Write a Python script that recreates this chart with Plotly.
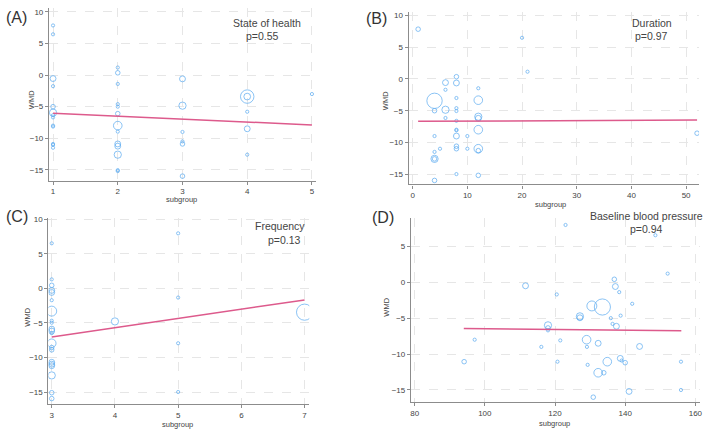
import plotly.graph_objects as go

W, H = 709, 432

# ---------------- data ----------------
# (A) State of health
a_x = [1, 1, 1, 1, 1, 1, 1, 1, 1, 1, 1, 1, 1,
       2, 2, 2, 2, 2, 2, 2, 2, 2, 2, 2, 2, 2,
       3, 3, 3, 3, 3, 3,
       4, 4, 4, 4, 4,
       5]
a_y = [7.86, 6.46, -0.55, -1.75, -5.0, -5.95, -6.35, -6.7, -8.0, -8.15, -10.9, -11.05, -11.5,
       1.2, 0.36, -1.4, -4.6, -5.0, -6.1, -8.0, -8.95, -10.9, -11.25, -12.6, -15.05, -15.2,
       -0.6, -4.84, -9.0, -10.5, -10.9, -16.0,
       -3.4, -3.4, -5.8, -8.5, -12.6,
       -3.0]
a_w = [1, 1, 2, 1, 1.5, 2.5, 1, 1, 1, 1, 1, 1, 1,
       1, 1.5, 1, 1, 1, 1.5, 3, 1, 2, 2, 2.5, 1, 1,
       2, 2.5, 1, 1, 1.5, 1.5,
       4.8, 2.3, 1, 2, 1,
       1]
a_fit_x = [1, 5]
a_fit_y = [-6.04, -7.90]

# (B) Duration
b_x = [1, 20, 21, 4, 4, 4, 4, 4, 4, 4, 5, 6, 6, 6, 6,
       8, 8, 8, 8, 8, 8, 8, 8, 8, 8, 8, 8,
       10, 10, 12, 12, 12, 12, 12, 12, 12, 12, 52]
b_y = [7.86, 6.5, 1.15, -3.44, -5.0, -9.0, -11.5, -12.6, -12.6, -16.0, -11.0, -0.57, -1.7, -4.85, -6.15,
       0.36, -0.63, -3.0, -4.6, -5.05, -6.6, -8.0, -8.1, -9.0, -10.6, -11.0, -15.0,
       -9.0, -11.0, -1.46, -3.34, -5.95, -6.2, -8.0, -11.0, -11.3, -15.2, -8.55]
b_w = [1.5, 1, 1, 5.5, 1.5, 1, 1, 2.5, 1.5, 1.5, 1, 2, 1, 2.5, 1,
       1.5, 2, 1, 1, 1, 1, 1, 1, 2, 1.5, 1.5, 1,
       1, 1, 1, 3, 2.5, 2, 3, 3, 1.5, 1.5, 1.5]
b_fit_x = [1, 52]
b_fit_y = [-6.68, -6.47]

# (C) Frequency
c_x = [3] * 21 + [4, 5, 5, 5, 5, 7]
c_y = [6.51, 1.29, 0.43, -0.3, -0.6, -1.72, -3.3, -4.69, -4.98, -5.9, -6.18, -6.5,
       -7.95, -8.57, -8.9, -10.7, -10.97, -11.2, -12.6, -15.1, -15.95,
       -4.79, 7.95, -1.34, -7.95, -15.0, -3.45]
c_w = [1, 1, 1.5, 2, 2, 1, 3.5, 1, 1, 2, 2, 1,
       3, 1.5, 1.5, 2, 2, 2, 2.5, 1.5, 1.5,
       2.5, 1, 1, 1, 1, 5.8]
c_fit_x = [3, 7]
c_fit_y = [-7.04, -1.68]

# (D) Baseline blood pressure
d_x = [123.0, 148.6, 152.1, 94.1, 97.1, 111.6, 116.1, 120.5, 120.7, 118, 118, 118, 121.5,
       127.1, 127.1, 129, 129.1, 129.3, 130.5, 133.5, 130.9, 132.3, 132.3, 133.9, 134.9,
       135.9, 136.4, 136.9, 137.2, 137.5, 138.3, 138.7, 138.6, 139, 140, 141.1, 142,
       144.1, 155.9, 155.9]
d_y = [7.97, 6.54, 1.2, -11.06, -8.0, -0.5, -9.0, -1.7, -11.06, -6.0, -6.36, -6.7, -8.1,
       -4.75, -4.95, -8.0, -9.0, -11.5, -3.3, -3.45, -16.0, -8.5, -12.6, -12.6, -11.06,
       -5.0, -5.8, 0.41, -0.6, -6.13, -1.38, -4.65, -10.6, -10.9, -11.2, -15.2, -3.0,
       -8.94, -11.06, -15.0]
d_w = [1, 1, 1, 1.5, 1, 2, 1, 1, 1, 2.5, 1.5, 1, 1,
       2.5, 2, 3, 1, 1, 3.5, 5.8, 1.5, 2, 3, 1.5, 3,
       1, 1, 1.5, 2, 2, 1, 1, 2, 1, 1.5, 2, 1,
       2, 1, 1]
d_fit_x = [94, 156]
d_fit_y = [-6.45, -6.77]

panels = [
    dict(x=a_x, y=a_y, w=a_w, fx=a_fit_x, fy=a_fit_y, label="(A)", title="State of health", p="p=0.55",
         px=(48.3, 317), py=(5, 179), xr=(0.938, 5.066), yr=(-16.73, 10.63),
         xt=[1, 2, 3, 4, 5], yt=[-15, -10, -5, 0, 5, 10],
         lab=(3, 15), tt=(268, 20), ta="center", pt=(263, 33), sub=(182, 198), wmd=(30, 97)),
    dict(x=b_x, y=b_y, w=b_w, fx=b_fit_x, fy=b_fit_y, label="(B)", title="Duration", p="p=0.97",
         px=(410, 702), py=(9.3, 182.7), xr=(-0.727, 52.36), yr=(-16.63, 10.53),
         xt=[0, 10, 20, 30, 40, 50], yt=[-15, -10, -5, 0, 5, 10],
         lab=(365, 16), tt=(655, 20), ta="center", pt=(654, 33), sub=(553, 203), wmd=(387, 98)),
    dict(x=c_x, y=c_y, w=c_w, fx=c_fit_x, fy=c_fit_y, label="(C)", title="Frequency", p="p=0.13",
         px=(47.7, 310), py=(216.5, 403.7), xr=(2.948, 7.074), yr=(-16.72, 10.17),
         xt=[3, 4, 5, 6, 7], yt=[-15, -10, -5, 0, 5, 10],
         lab=(3, 215), tt=(281, 225), ta="center", pt=(285.5, 238.7), sub=(178, 424), wmd=(27, 316)),
    dict(x=d_x, y=d_y, w=d_w, fx=d_fit_x, fy=d_fit_y, label="(D)", title="Baseline blood pressure", p="p=0.94",
         px=(412.3, 703), py=(216.5, 402), xr=(78.95, 161.33), yr=(-16.70, 8.94),
         xt=[80, 100, 120, 140, 160], yt=[-15, -10, -5, 0, 5],
         lab=(371, 216), tt=(708, 214), ta="right", pt=(649, 227.7), sub=(557, 423), wmd=(388, 306)),
]

FONT = "Liberation Sans, Arial, Helvetica, sans-serif"
MARKER = "#5aaaf0"
FIT = "#dd5a8c"
GRID = "#e6e6e6"
AXIS = "#8c8c8c"
TXT = "#444"

fig = go.Figure()
layout = dict(width=W, height=H, margin=dict(l=0, r=0, t=0, b=0),
              paper_bgcolor="white", plot_bgcolor="white", showlegend=False,
              font=dict(family=FONT, color=TXT))
annotations = []


def px2x(v):
    return v / W


def py2y(v):
    return 1 - v / H


for i, p in enumerate(panels):
    k = "" if i == 0 else str(i + 1)
    sizes = [0.5 + 2.7 * w for w in p["w"]]
    fig.add_trace(go.Scatter(x=p["x"], y=p["y"], mode="markers", xaxis="x" + k, yaxis="y" + k,
                             marker=dict(symbol="circle-open", size=sizes, color=MARKER,
                                         line=dict(width=1, color=MARKER))))
    fig.add_trace(go.Scatter(x=p["fx"], y=p["fy"], mode="lines", xaxis="x" + k, yaxis="y" + k,
                             line=dict(color=FIT, width=1.5)))
    common = dict(showline=True, linecolor=AXIS, linewidth=1.2,
                  ticks="outside", ticklen=3, tickcolor=AXIS, tickwidth=1,
                  showgrid=True, gridcolor=GRID, griddash="dash", gridwidth=1,
                  zeroline=False, tickfont=dict(size=8, color=TXT, family=FONT),
                  fixedrange=True)
    layout["xaxis" + k] = dict(domain=[px2x(p["px"][0]), px2x(p["px"][1])], range=list(p["xr"]),
                               tickvals=p["xt"], anchor="y" + k, **common)
    layout["yaxis" + k] = dict(domain=[py2y(p["py"][1]), py2y(p["py"][0])], range=list(p["yr"]),
                               tickvals=p["yt"], anchor="x" + k, **common)

    annotations.append(dict(text=p["label"], x=px2x(p["lab"][0]), y=py2y(p["lab"][1]),
                            xref="paper", yref="paper", xanchor="left", yanchor="middle",
                            showarrow=False, font=dict(size=16, color="#333", family=FONT)))
    annotations.append(dict(text=p["title"], x=px2x(p["tt"][0]), y=py2y(p["tt"][1]),
                            xref="paper", yref="paper", xanchor=p["ta"], yanchor="middle",
                            showarrow=False, font=dict(size=10.5, color=TXT, family=FONT)))
    annotations.append(dict(text=p["p"], x=px2x(p["pt"][0]), y=py2y(p["pt"][1]),
                            xref="paper", yref="paper", xanchor="center", yanchor="middle",
                            showarrow=False, font=dict(size=10.5, color=TXT, family=FONT)))
    annotations.append(dict(text="subgroup", x=px2x(p["sub"][0]), y=py2y(p["sub"][1]),
                            xref="paper", yref="paper", xanchor="center", yanchor="middle",
                            showarrow=False, font=dict(size=7.5, color=TXT, family=FONT)))
    annotations.append(dict(text="WMD", x=px2x(p["wmd"][0]), y=py2y(p["wmd"][1]),
                            xref="paper", yref="paper", xanchor="center", yanchor="middle",
                            textangle=-90, showarrow=False,
                            font=dict(size=7.5, color=TXT, family=FONT)))

layout["annotations"] = annotations
fig.update_layout(**layout)
fig.write_html("out.html")
